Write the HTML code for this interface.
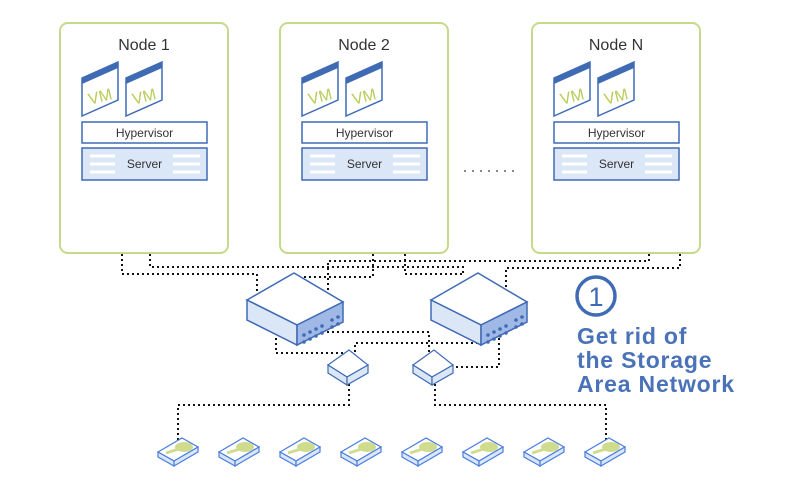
<!DOCTYPE html>
<html><head><meta charset="utf-8"><style>
html,body{margin:0;padding:0;background:#fff}
svg{display:block}
text{font-family:"Liberation Sans",sans-serif}
</style></head><body>
<svg width="800" height="500" viewBox="0 0 800 500" xmlns="http://www.w3.org/2000/svg">
<defs>
<g id="vm">
  <polygon points="0,16 36,0 36,38 0,54" fill="#fff" stroke="#3f6bb5" stroke-width="1.5"/>
  <polygon points="0,16 36,0 36,6 0,22" fill="#3f6bb5"/>
  <text x="18" y="40" font-size="16" fill="#b5cc55" text-anchor="middle" transform="rotate(-14 18 34)">VM</text>
</g>
<g id="node">
  <rect x="0" y="0" width="168" height="230" rx="8" fill="#fff" stroke="#c5d98a" stroke-width="2"/>
  <use href="#vm" x="22" y="39"/>
  <use href="#vm" x="66" y="39"/>
  <rect x="22" y="99" width="125" height="21" fill="#fff" stroke="#3f6bb5" stroke-width="1.5"/>
  <text x="84.5" y="114" font-size="12" fill="#333" text-anchor="middle">Hypervisor</text>
  <rect x="22" y="125" width="125" height="32" fill="#dbe6f7" stroke="#3f6bb5" stroke-width="1.5"/>
  <g stroke="#fff" stroke-width="3">
    <line x1="30" y1="133" x2="55" y2="133"/><line x1="30" y1="141" x2="55" y2="141"/><line x1="30" y1="149" x2="55" y2="149"/>
    <line x1="113" y1="133" x2="140" y2="133"/><line x1="113" y1="141" x2="140" y2="141"/><line x1="113" y1="149" x2="140" y2="149"/>
  </g>
  <text x="84.5" y="145" font-size="12" fill="#333" text-anchor="middle">Server</text>
</g>
<g id="sw">
  <polygon points="0,27 47,0 96,29 50,52" fill="#fff" stroke="#3f6bb5" stroke-width="1.5"/>
  <polygon points="0,27 50,52 50,72 0,47" fill="#dbe6f7" stroke="#3f6bb5" stroke-width="1.5"/>
  <polygon points="50,52 96,29 96,49 50,72" fill="#9fb8e6" stroke="#3f6bb5" stroke-width="1.5"/>
  <g fill="#3f6bb5">
    <circle cx="57" cy="62" r="1.8"/><circle cx="63" cy="59" r="1.8"/><circle cx="69" cy="56" r="1.8"/><circle cx="75" cy="53" r="1.8"/>
    <circle cx="57" cy="69" r="1.8"/><circle cx="63" cy="66" r="1.8"/><circle cx="69" cy="63" r="1.8"/><circle cx="75" cy="60" r="1.8"/>
    <circle cx="85" cy="47" r="1.8"/><circle cx="91" cy="44" r="1.8"/><circle cx="85" cy="54" r="1.8"/><circle cx="91" cy="51" r="1.8"/>
  </g>
</g>
<g id="small">
  <polygon points="0,15 21,0 40,15 19,27" fill="#fff" stroke="#3f6bb5" stroke-width="1.2"/>
  <polygon points="0,15 19,27 19,35 0,23" fill="#dbe6f7" stroke="#3f6bb5" stroke-width="1.2"/>
  <polygon points="19,27 40,15 40,23 19,35" fill="#dbe6f7" stroke="#3f6bb5" stroke-width="1.2"/>
</g>
<g id="disk">
  <polygon points="0,14 24,0 40,9 16,23" fill="#fff" stroke="#4a7de0" stroke-width="1.2"/>
  <polygon points="0,14 16,23 16,28 0,19" fill="#dbe6f7" stroke="#4a7de0" stroke-width="1.2"/>
  <polygon points="16,23 40,9 40,14 16,28" fill="#dbe6f7" stroke="#4a7de0" stroke-width="1.2"/>
  <ellipse cx="26" cy="9" rx="9" ry="5" fill="#cfdc8e"/>
  <line x1="8" y1="15" x2="24" y2="10" stroke="#cfdc8e" stroke-width="3"/>
</g>
</defs>

<use href="#node" x="60" y="23"/>
<use href="#node" x="280" y="23"/>
<use href="#node" x="532" y="23"/>
<text x="144" y="50" font-size="16" fill="#333" text-anchor="middle">Node 1</text>
<text x="364" y="50" font-size="16" fill="#333" text-anchor="middle">Node 2</text>
<text x="616" y="50" font-size="16" fill="#333" text-anchor="middle">Node N</text>
<line x1="464" y1="171" x2="520" y2="171" stroke="#888" stroke-width="2" stroke-dasharray="2 6"/>

<g fill="none" stroke="#111" stroke-width="2" stroke-dasharray="2 3">
  <polyline points="122,254 122,274 257,274 257,292"/>
  <polyline points="150,254 150,267 463,267 463,276"/>
  <polyline points="405,254 405,274 463,274"/>
  <polyline points="649,254 649,261 328,261 328,292"/>
  <polyline points="680,254 680,268 506,268 506,292"/>
  <polyline points="373,254 373,277 302,277 302,282"/>
  <polyline points="276,338 276,353 349,353"/>
  <polyline points="355,352 355,343 477,343 477,338"/>
  <polyline points="327,332 429,332 429,352"/>
  <polyline points="499,338 499,367 453,367"/>
  <polyline points="349,384 349,405 178,405 178,440"/>
  <polyline points="435,384 435,405 606,405 606,440"/>
</g>

<use href="#sw" x="247" y="273"/>
<use href="#sw" x="431" y="273"/>
<use href="#small" x="328" y="350"/>
<use href="#small" x="413" y="350"/>

<use href="#disk" x="158" y="438"/>
<use href="#disk" x="219" y="438"/>
<use href="#disk" x="280" y="438"/>
<use href="#disk" x="341" y="438"/>
<use href="#disk" x="402" y="438"/>
<use href="#disk" x="463" y="438"/>
<use href="#disk" x="524" y="438"/>
<use href="#disk" x="585" y="438"/>

<circle cx="596" cy="296" r="19" fill="none" stroke="#3f6bb5" stroke-width="3.5"/>
<text x="596" y="306" font-size="27" fill="#3f6bb5" text-anchor="middle">1</text>
<g font-size="23" font-weight="bold" fill="#4a72b8" letter-spacing="0.8">
<text x="577" y="344">Get rid of</text>
<text x="577" y="368">the Storage</text>
<text x="577" y="392">Area Network</text>
</g>
</svg>
</body></html>
